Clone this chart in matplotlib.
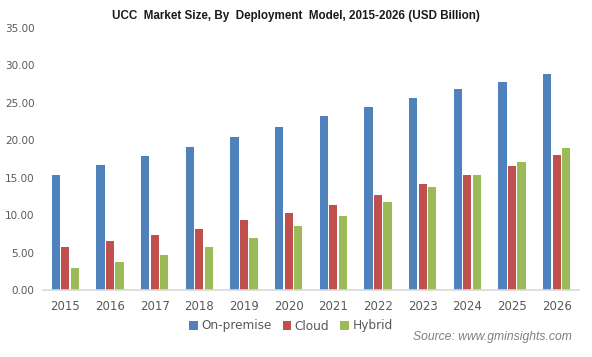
import numpy as np
from matplotlib import pyplot as plt

years = ["2015", "2016", "2017", "2018", "2019", "2020",
         "2021", "2022", "2023", "2024", "2025", "2026"]
on_premise = [15.4, 16.7, 17.9, 19.1, 20.5, 21.8, 23.2, 24.5, 25.6, 26.8, 27.8, 28.8]
cloud = [5.8, 6.6, 7.4, 8.2, 9.3, 10.3, 11.4, 12.7, 14.1, 15.4, 16.6, 18.1]
hybrid = [3.0, 3.8, 4.7, 5.8, 7.0, 8.5, 9.9, 11.8, 13.7, 15.4, 17.1, 19.0]
y_ticks = [0, 5, 10, 15, 20, 25, 30, 35]

fig = plt.figure(figsize=(5.92, 3.57), dpi=100)
ax = fig.add_axes([43 / 592, 67 / 357, 536 / 592, 262 / 357])

x = np.arange(len(years))
w = 0.18
step = 0.213
ax.bar(x - step, on_premise, w, color="#4F81BD", label="On-premise")
ax.bar(x, cloud, w, color="#C0504D", label="Cloud")
ax.bar(x + step, hybrid, w, color="#9BBB59", label="Hybrid")

ax.set_xlim(-0.5, len(years) - 0.5)
ax.set_ylim(0, 35)
ax.set_yticks(y_ticks)
ax.set_yticklabels(["%.2f" % t for t in y_ticks])
ax.set_xticks(x)
ax.set_xticklabels(years)

for s in ["top", "right", "left"]:
    ax.spines[s].set_visible(False)
ax.spines["bottom"].set_color("#D9D9D9")
ax.spines["bottom"].set_linewidth(1.2)
ax.tick_params(axis="both", length=0, colors="#595959")
ax.tick_params(axis="x", pad=7, labelsize=8.5)
ax.tick_params(axis="y", pad=6, labelsize=7.5)

fig.text(0.5, 1 - 16 / 357, "UCC  Market Size, By  Deployment  Model, 2015-2026 (USD Billion)",
         ha="center", va="center", fontsize=8.4, fontweight="bold",
         family="Liberation Sans", color="#1a1a1a")

fig.legend(loc="center", bbox_to_anchor=(291 / 592, 1 - 326 / 357), ncol=3,
           frameon=False, fontsize=8.7, handlelength=0.7, handleheight=0.7,
           handletextpad=0.3, columnspacing=0.9, labelcolor="#595959")

fig.text(572 / 592, 1 - 337 / 357, "Source: www.gminsights.com", ha="right",
         va="center", fontsize=8.7, style="italic", color="#7F7F7F",
         family="Liberation Sans")

fig.savefig("out.png", dpi=100)
